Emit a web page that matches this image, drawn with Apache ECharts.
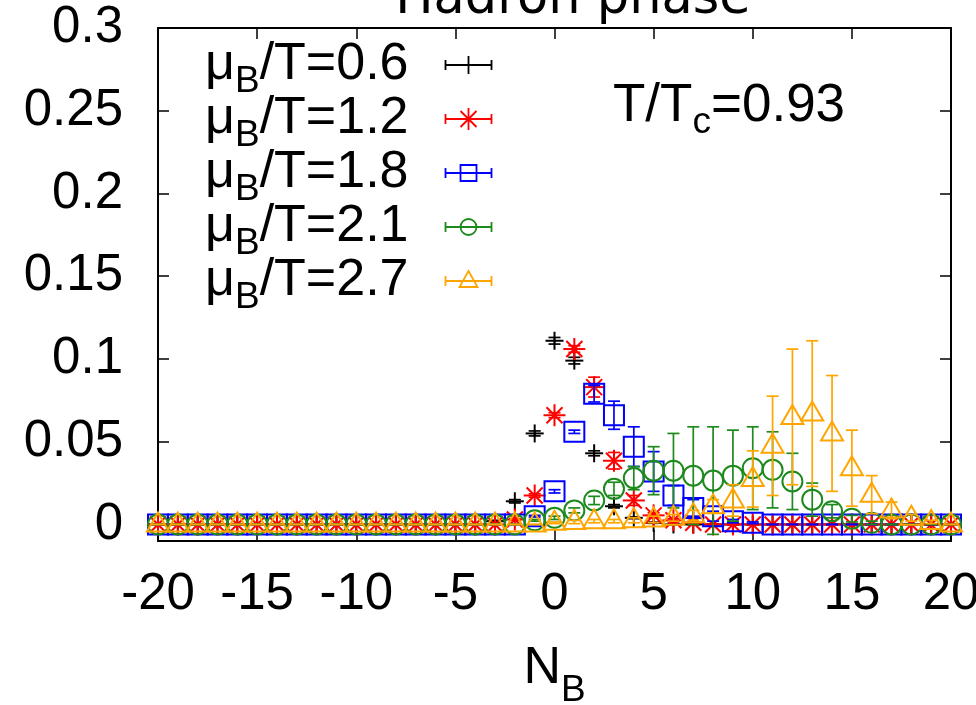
<!DOCTYPE html>
<html>
<head>
<meta charset="utf-8">
<title>Hadron phase</title>
<script src="https://cdn.jsdelivr.net/npm/echarts@6/dist/echarts.min.js"></script>
<style>
  html, body { margin: 0; padding: 0; background: #fff; }
  #chart { width: 976px; height: 705px; }
</style>
</head>
<body>
<div id="chart"></div>
<script>
// Baryon number N_B
const nb = [-20,-19,-18,-17,-16,-15,-14,-13,-12,-11,-10,-9,-8,-7,-6,-5,-4,-3,-2,-1,
            0,1,2,3,4,5,6,7,8,9,10,11,12,13,14,15,16,17,18,19,20];

// Distribution values and errors, one pair per mu_B/T
const p06 = [0,0,0,0,0,0,0,0,0,0,0,0,0,0,0,0,0,
             0.002,0.014,0.055,0.111,0.099,0.043,0.011,0.004,0.001,
             0,0,0,0,0,0,0,0,0,0,0,0,0,0,0];
const e06 = [0,0,0,0,0,0,0,0,0,0,0,0,0,0,0,0,0,
             0.0005,0.001,0.0015,0.002,0.002,0.0015,0.001,0.0005,0.0003,
             0,0,0,0,0,0,0,0,0,0,0,0,0,0,0];

const p12 = [0,0,0,0,0,0,0,0,0,0,0,0,0,0,0,0,0,0,
             0.003,0.0175,0.066,0.106,0.083,0.0385,0.0145,0.0055,0.0025,0.001,
             0,0,0,0,0,0,0,0,0,0,0,0,0];
const e12 = [0,0,0,0,0,0,0,0,0,0,0,0,0,0,0,0,0,0,
             0.0005,0.001,0.0015,0.002,0.006,0.005,0.003,0.0015,0.001,0.0005,
             0,0,0,0,0,0,0,0,0,0,0,0,0];

const p18 = [0,0,0,0,0,0,0,0,0,0,0,0,0,0,0,0,0,0,0,
             0.005,0.020,0.056,0.079,0.066,0.047,0.032,0.0175,0.010,0.005,0.002,0.001,
             0,0,0,0,0,0,0,0,0,0];
const e18 = [0,0,0,0,0,0,0,0,0,0,0,0,0,0,0,0,0,0,0,
             0.0005,0.001,0.001,0.005,0.0085,0.012,0.012,0.006,0.005,0.003,0.001,0.0005,
             0,0,0,0,0,0,0,0,0,0];

const p21 = [0,0,0,0,0,0,0,0,0,0,0,0,0,0,0,0,0,0,0,
             0.0025,0.004,0.0085,0.0145,0.0215,0.028,0.0325,0.0325,0.0295,0.0265,
             0.0295,0.034,0.033,0.026,0.015,0.008,0.0035,0.001,
             0,0,0,0];
const e21 = [0,0,0,0,0,0,0,0,0,0,0,0,0,0,0,0,0,0,0,
             0.0005,0.001,0.0015,0.0025,0.004,0.007,0.0145,0.0225,0.0295,0.0325,
             0.0275,0.025,0.023,0.017,0.01,0.004,0.002,0.001,
             0,0,0,0];

const p27 = [0,0,0,0,0,0,0,0,0,0,0,0,0,0,0,0,0,0,0,0,
             0.001,0.0015,0.002,0.002,0.0025,0.003,0.004,0.0055,0.011,0.0145,
             0.0275,0.0475,0.065,0.067,0.055,0.034,0.018,0.0085,0.004,0.0015,0];
const e27 = [0,0,0,0,0,0,0,0,0,0,0,0,0,0,0,0,0,0,0,0,
             0.0005,0.001,0.001,0.001,0.0015,0.002,0.002,0.003,0.004,0.0095,
             0.017,0.030,0.041,0.044,0.035,0.023,0.0115,0.005,0.002,0.001,0];

const muLabels = ['0.6', '1.2', '1.8', '2.1', '2.7'];
const xTicks = [-20, -15, -10, -5, 0, 5, 10, 15, 20];
const yTicks = [0, 0.05, 0.1, 0.15, 0.2, 0.25, 0.3];

const FONT = 'Liberation Sans';
const sets = [
  { vals: p06, errs: e06, color: '#000000', kind: 'plus' },
  { vals: p12, errs: e12, color: '#ff0000', kind: 'star' },
  { vals: p18, errs: e18, color: '#0000ff', kind: 'square' },
  { vals: p21, errs: e21, color: '#1d8a1d', kind: 'circle' },
  { vals: p27, errs: e27, color: '#ffa500', kind: 'triangle' }
];

// point symbols, drawn as outlines around the data position
function pointShape(kind, cx, cy, color) {
  const st = () => ({ stroke: color, lineWidth: 2, fill: 'none' });
  const ln = (x1, y1, x2, y2) => ({ type: 'line', shape: { x1, y1, x2, y2 }, style: st() });
  switch (kind) {
    case 'plus':
      return [ln(cx - 9, cy, cx + 9, cy), ln(cx, cy - 9, cx, cy + 9)];
    case 'star':
      return [ln(cx - 11, cy, cx + 11, cy), ln(cx, cy - 11, cx, cy + 11),
              ln(cx - 8, cy - 8, cx + 8, cy + 8), ln(cx - 8, cy + 8, cx + 8, cy - 8)];
    case 'square':
      return [{ type: 'rect', shape: { x: cx - 10, y: cy - 10, width: 20, height: 20 }, style: st() }];
    case 'circle':
      return [{ type: 'circle', shape: { cx, cy, r: 10 }, style: st() }];
    default:
      return [{ type: 'polygon', shape: { points: [[cx, cy - 12], [cx + 11, cy + 7], [cx - 11, cy + 7]] }, style: st() }];
  }
}

function renderer(kind, color) {
  return function (params, api) {
    const x = api.value(0), y = api.value(1), e = api.value(2);
    const c = api.coord([x, y]);
    const hi = api.coord([x, y + e])[1];
    const lo = api.coord([x, y - e])[1];
    const cap = 6;
    const st = () => ({ stroke: color, lineWidth: 1.7 });
    const children = [
      { type: 'line', shape: { x1: c[0], y1: hi, x2: c[0], y2: lo }, style: st() },
      { type: 'line', shape: { x1: c[0] - cap, y1: hi, x2: c[0] + cap, y2: hi }, style: st() },
      { type: 'line', shape: { x1: c[0] - cap, y1: lo, x2: c[0] + cap, y2: lo }, style: st() }
    ].concat(pointShape(kind, c[0], c[1], color));
    return { type: 'group', children };
  };
}

// key samples: error bar with the point symbol in the middle (46 x 22 box)
const sampleBar = 'M0 11L46 11M0 6L0 16M46 6L46 16M23 0L23 0M23 22L23 22';
const sampleMark = {
  plus: 'M23 2L23 20',
  star: 'M23 0L23 22M15 3L31 19M15 19L31 3',
  square: 'M15 3L31 3L31 19L15 19Z',
  circle: 'M31 11A8 8 0 1 1 15 11A8 8 0 1 1 31 11Z',
  triangle: 'M23 1L32 17L14 17Z'
};

const names = muLabels.map(m => 'μB/T=' + m);

const series = sets.map((s, i) => ({
  name: names[i],
  type: 'custom',
  renderItem: renderer(s.kind, s.color),
  itemStyle: { color: s.color },
  encode: { x: 0, y: 1 },
  data: nb.map((n, j) => [n, s.vals[j], s.errs[j]]),
  z: 2 + i
}));

const axisLineStyle = { color: '#000', width: 2 };
const tickStyle = { color: '#000', width: 1.5 };

const chart = echarts.init(document.getElementById('chart'), null, { renderer: 'canvas' });
chart.setOption({
  animation: false,
  backgroundColor: '#fff',
  grid: { left: 158, right: 25, top: 28, bottom: 164, outerBoundsMode: 'none', containLabel: false },
  xAxis: [{
    type: 'value', min: -20, max: 20, interval: 5,
    name: '{m|N}{s|B}', nameLocation: 'middle', nameGap: 102,
    nameTextStyle: {
      rich: {
        m: { fontFamily: FONT, fontSize: 52, color: '#000' },
        s: { fontFamily: FONT, fontSize: 37, color: '#000', padding: [44, 0, 0, 0], lineHeight: 40 }
      }
    },
    axisLine: { show: true, onZero: false, lineStyle: axisLineStyle },
    axisTick: { show: true, inside: true, length: 11, lineStyle: tickStyle, customValues: xTicks },
    axisLabel: { fontFamily: FONT, fontSize: 51, color: '#000', margin: 28, customValues: xTicks },
    splitLine: { show: false }
  }, {
    type: 'value', position: 'top', min: -20, max: 20, interval: 5,
    axisLine: { show: true, onZero: false, lineStyle: axisLineStyle },
    axisTick: { show: true, inside: true, length: 11, lineStyle: tickStyle, customValues: xTicks },
    axisLabel: { show: false },
    splitLine: { show: false }
  }],
  yAxis: [{
    type: 'value', min: -0.01, max: 0.3,
    axisLine: { show: true, onZero: false, lineStyle: axisLineStyle },
    axisTick: { show: true, inside: true, length: 11, lineStyle: tickStyle, customValues: yTicks },
    axisLabel: { fontFamily: FONT, fontSize: 51, color: '#000', margin: 35, customValues: yTicks },
    splitLine: { show: false }
  }, {
    type: 'value', position: 'right', min: -0.01, max: 0.3,
    axisLine: { show: true, onZero: false, lineStyle: axisLineStyle },
    axisTick: { show: true, inside: true, length: 11, lineStyle: tickStyle, customValues: yTicks },
    axisLabel: { show: false },
    splitLine: { show: false }
  }],
  legend: {
    orient: 'vertical', left: 205, top: 30, padding: 0, itemGap: -16,
    align: 'right', itemWidth: 46, itemHeight: 22, selectedMode: false,
    formatter: n => '{m|μ}{s|B}{r|' + n.slice(2) + '}',
    textStyle: {
      rich: {
        m: { fontFamily: FONT, fontSize: 52, color: '#000', lineHeight: 53 },
        r: { fontFamily: FONT, fontSize: 52, color: '#000', lineHeight: 53, padding: [0, 32, 0, 0] },
        s: { fontFamily: FONT, fontSize: 37, color: '#000', lineHeight: 40, padding: [33, 0, 0, 0] }
      }
    },
    data: names.map((n, i) => ({
      name: n,
      icon: 'path://' + sampleBar + sampleMark[sets[i].kind],
      itemStyle: { color: 'none', borderColor: sets[i].color, borderWidth: 1.8 }
    }))
  },
  graphic: [{
    type: 'text', x: 573, y: 0, silent: true,
    style: { text: 'Hadron phase', fontFamily: 'DejaVu Sans', fontSize: 51, fill: '#000', align: 'center', verticalAlign: 'middle' }
  }, {
    type: 'text', x: 613, y: 106, silent: true,
    style: {
      text: '{m|T/T}{s|c}{m|=0.93}', align: 'left', verticalAlign: 'middle',
      rich: {
        m: { fontFamily: FONT, fontSize: 53, fill: '#000' },
        s: { fontFamily: FONT, fontSize: 37, fill: '#000', padding: [33, 0, 0, 0], lineHeight: 40 }
      }
    }
  }],
  series
});
</script>
</body>
</html>
